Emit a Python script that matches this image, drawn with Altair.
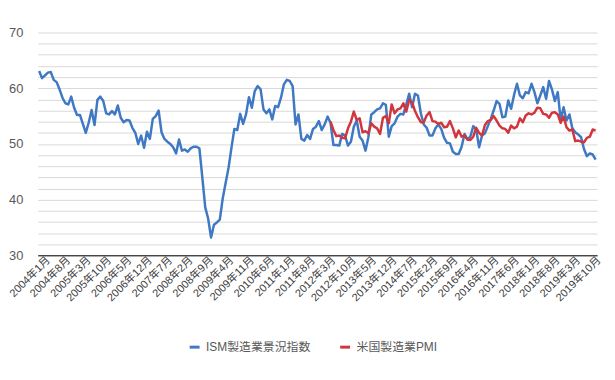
import altair as alt
import pandas as pd

# Monthly categories 2004-01 .. 2019-12
months = [f"{y}年{m}月" for y in range(2004, 2020) for m in range(1, 13)]
tick_labels = months[::7]

series_names = ["ISM製造業景況指数", "米国製造業PMI"]
series_colors = ["#3F78C3", "#D1353D"]

ism_2004 = [63.1, 61.8, 62.3, 62.8, 62.9, 61.5, 61.1, 59.8, 58.3, 57.3, 57.1, 58.5]
ism_2005 = [56.5, 55.2, 55.2, 53.6, 52.0, 53.8, 56.1, 53.4, 57.9, 58.5, 57.7, 55.5]
ism_2006 = [55.3, 55.9, 55.3, 56.9, 54.7, 53.9, 54.3, 54.2, 52.9, 52.0, 50.0, 51.5]
ism_2007 = [49.3, 52.2, 50.9, 54.5, 55.0, 56.0, 52.1, 50.9, 50.4, 50.0, 49.4, 48.3]
ism_2008 = [50.8, 48.8, 49.0, 48.6, 49.2, 49.5, 49.5, 49.2, 44.0, 38.6, 36.6, 33.2]
ism_2009 = [35.5, 35.9, 36.4, 40.2, 43.0, 45.7, 49.3, 52.7, 52.5, 55.4, 53.6, 55.3]
ism_2010 = [58.4, 56.5, 59.5, 60.4, 59.8, 56.2, 55.5, 56.2, 54.4, 56.8, 56.6, 58.3]
ism_2011 = [60.7, 61.5, 61.3, 60.4, 53.5, 55.3, 50.9, 50.6, 51.6, 50.9, 52.7, 53.1]
ism_2012 = [54.1, 52.5, 53.5, 54.9, 53.8, 49.8, 49.8, 49.7, 51.8, 51.5, 49.7, 50.4]
ism_2013 = [53.1, 54.2, 51.3, 50.6, 48.8, 51.2, 55.3, 55.7, 56.2, 56.4, 57.3, 57.0]
ism_2014 = [51.3, 53.2, 53.7, 54.9, 55.4, 55.3, 57.1, 59.0, 56.6, 59.0, 58.7, 55.5]
ism_2015 = [53.5, 52.9, 51.5, 51.5, 52.8, 53.5, 52.7, 51.1, 50.2, 50.1, 48.6, 48.2]
ism_2016 = [48.2, 49.5, 51.8, 50.8, 51.3, 53.2, 52.6, 49.4, 51.5, 51.9, 53.2, 54.5]
ism_2017 = [56.0, 57.7, 57.2, 54.8, 54.9, 57.8, 56.3, 58.8, 60.8, 58.7, 58.2, 59.3]
ism_2018 = [59.1, 60.8, 59.3, 57.3, 58.7, 60.2, 58.1, 61.3, 59.8, 57.7, 59.3, 54.3]
ism_2019 = [56.6, 54.2, 55.3, 52.8, 52.1, 51.7, 51.2, 49.1, 47.8, 48.3, 48.1, 47.2]

ism = (ism_2004 + ism_2005 + ism_2006 + ism_2007 + ism_2008 + ism_2009 + ism_2010
       + ism_2011 + ism_2012 + ism_2013 + ism_2014 + ism_2015 + ism_2016 + ism_2017
       + ism_2018 + ism_2019)

pmi_start = "2012年5月"
pmi_2012 = [54.0, 52.5, 51.4, 51.5, 51.1, 51.0, 52.8, 54.0]
pmi_2013 = [55.8, 54.3, 54.6, 52.1, 52.3, 51.9, 53.7, 53.1, 52.8, 51.8, 54.7, 55.0]
pmi_2014 = [53.7, 57.1, 55.5, 56.2, 56.4, 57.3, 55.8, 57.9, 57.5, 55.9, 54.8, 53.9]
pmi_2015 = [53.9, 55.1, 55.7, 54.1, 54.0, 53.6, 53.8, 53.0, 53.1, 54.1, 52.8, 51.2]
pmi_2016 = [52.4, 51.3, 51.5, 50.8, 50.7, 51.3, 52.9, 52.0, 51.5, 53.4, 54.1, 54.3]
pmi_2017 = [55.0, 54.2, 53.3, 52.8, 52.7, 52.0, 53.3, 52.8, 53.1, 54.6, 53.9, 55.1]
pmi_2018 = [55.5, 55.3, 55.6, 56.5, 56.4, 55.4, 55.3, 54.7, 55.6, 55.7, 55.3, 53.8]
pmi_2019 = [54.9, 53.0, 52.4, 52.6, 50.5, 50.6, 50.4, 50.3, 51.1, 51.3, 52.6, 52.4]

pmi = pmi_2012 + pmi_2013 + pmi_2014 + pmi_2015 + pmi_2016 + pmi_2017 + pmi_2018 + pmi_2019

rows = []
for m, v in zip(months, ism):
    rows.append({"month": m, "series": series_names[0], "value": v})
i0 = months.index(pmi_start)
for m, v in zip(months[i0:], pmi):
    rows.append({"month": m, "series": series_names[1], "value": v})
df = pd.DataFrame(rows)

font = '"Liberation Sans", "Noto Sans CJK JP", sans-serif'

chart = alt.Chart(df).mark_line(strokeWidth=2.5, strokeJoin="round").encode(
    x=alt.X(
        "month:O",
        sort=months,
        scale=alt.Scale(type="point", padding=0.5),
        axis=alt.Axis(
            values=tick_labels,
            labelAngle=315,
            labelAlign="right",
            labelBaseline="middle",
            labelOffset=9,
            labelPadding=3,
            labelOverlap=False,
            ticks=False,
            grid=False,
            domainColor="#000000",
            domainWidth=1,
            title=None,
            labelFont=font,
            labelFontSize=11,
            labelColor="#404040",
        ),
    ),
    y=alt.Y(
        "value:Q",
        scale=alt.Scale(domain=[30, 70], nice=False, zero=False),
        axis=alt.Axis(
            values=list(range(30, 71, 2)),
            labelExpr="datum.value % 10 == 0 ? datum.label : ''",
            domain=False,
            ticks=False,
            grid=True,
            gridColor="#D9D9D9",
            gridWidth=1,
            labelPadding=15,
            labelFont=font,
            labelFontSize=13,
            labelColor="#595959",
            title=None,
        ),
    ),
    color=alt.Color(
        "series:N",
        sort=series_names,
        scale=alt.Scale(domain=series_names, range=series_colors),
        legend=alt.Legend(
            title=None,
            orient="none",
            direction="horizontal",
            legendX=152,
            legendY=311,
            symbolType="stroke",
            symbolSize=100,
            symbolStrokeWidth=3,
            labelFont=font,
            labelFontSize=12,
            labelColor="#595959",
            labelOffset=5,
            columnPadding=23,
            padding=0,
        ),
    ),
    order=alt.Order("series:N"),
).properties(
    width=565,
    height=225,
    autosize=alt.AutoSizeParams(type="none"),
    padding={"left": 30, "top": 23, "right": 10, "bottom": 110},
).configure_view(stroke=None)

chart.save("out.html", embed_options={"renderer": "svg", "actions": False})
